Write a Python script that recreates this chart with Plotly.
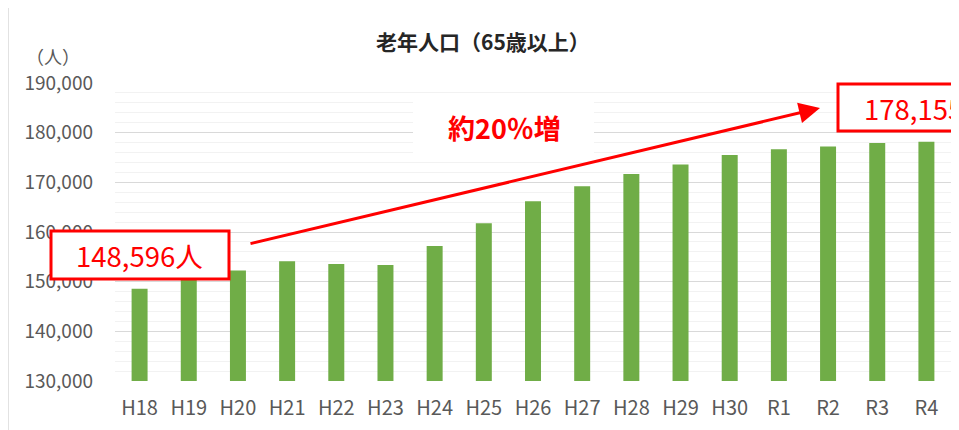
import plotly.graph_objects as go

categories = ["H18", "H19", "H20", "H21", "H22", "H23", "H24", "H25", "H26",
              "H27", "H28", "H29", "H30", "R1", "R2", "R3", "R4"]
elderly_pop = [148596, 150500, 152230, 154130, 153580, 153380, 157200, 161770, 166200,
               169220, 171700, 173570, 175520, 176670, 177190, 177940, 178155]
y_ticks = [130000, 140000, 150000, 160000, 170000, 180000, 190000]
y_tick_labels = [f"{v:,}" for v in y_ticks]

start_label = "148,596人"
end_label = "178,155人"
growth_label = "約20％増"
title_text = "<b>老年人口（65歳以上）</b>"
unit_label = "（人）"

FONT = "Noto Sans CJK JP"
# the page body has an 8px margin, so the figure is drawn 8px right/down
OFF = 8
W, H = 959 - OFF, 430 - OFF
# plot area in reference-picture pixels
L, R, T, B = 115, 951, 83, 381


def px(x):
    return (x - L) / (R - L)


def py(y):
    return (B - y) / (B - T)


fig = go.Figure()
fig.add_trace(go.Bar(x=categories, y=elderly_pop, marker=dict(color="#70ad47", line=dict(width=0)),
                     hoverinfo="x+y"))

fig.update_layout(
    width=W, height=H,
    margin=dict(l=L - OFF, r=959 - R, t=T - OFF, b=430 - B),
    paper_bgcolor="white", plot_bgcolor="white",
    bargap=0.675,
    showlegend=False,
    font=dict(family=FONT, color="#595959"),
)
fig.update_xaxes(
    type="category", showgrid=False, zeroline=False, showline=False,
    ticks="", tickfont=dict(size=20, color="#595959", family=FONT),
    ticklabelstandoff=13,
)
fig.update_yaxes(
    range=[130000, 190000], tickvals=y_ticks, ticktext=y_tick_labels,
    showgrid=True, gridcolor="#d9d9d9", gridwidth=1, zeroline=False, showline=False,
    ticks="", tickfont=dict(size=19, color="#595959", family=FONT),
    ticklabelstandoff=21,
    minor=dict(dtick=2000, tick0=130000, showgrid=True, gridcolor="#f2f2f2", gridwidth=1),
)

shapes = []
# outer chart frame
shapes.append(dict(type="rect", xref="paper", yref="paper", x0=px(8), x1=px(1100),
                   y0=py(500), y1=py(6), line=dict(color="#d9d9d9", width=1.5),
                   fillcolor="rgba(0,0,0,0)", layer="below"))
# white area behind growth text
shapes.append(dict(type="rect", xref="paper", yref="paper", x0=px(413), x1=px(594),
                   y0=py(158), y1=py(98), line=dict(width=0), fillcolor="white", layer="above"))
# start value box
shapes.append(dict(type="rect", xref="paper", yref="paper", x0=px(51), x1=px(229),
                   y0=py(279), y1=py(231), line=dict(color="#ff0000", width=3),
                   fillcolor="white", layer="above"))
# end value box
shapes.append(dict(type="rect", xref="paper", yref="paper", x0=px(838), x1=px(1000),
                   y0=py(131), y1=py(84), line=dict(color="#ff0000", width=3),
                   fillcolor="white", layer="above"))
fig.update_layout(shapes=shapes)

annotations = [
    dict(text=title_text, xref="paper", yref="paper", x=px(483), y=py(41),
         showarrow=False, font=dict(size=21, color="#262626", family=FONT),
         xanchor="center", yanchor="middle"),
    dict(text=unit_label, xref="paper", yref="paper", x=px(53), y=py(56),
         showarrow=False, font=dict(size=18, color="#595959", family=FONT),
         xanchor="center", yanchor="middle"),
    dict(text=start_label, xref="paper", yref="paper", x=px(139), y=py(255),
         showarrow=False, font=dict(size=27.5, color="#ff0000", family=FONT),
         xanchor="center", yanchor="middle"),
    dict(text=end_label, xref="paper", yref="paper", x=px(862), y=py(108),
         showarrow=False, font=dict(size=27.5, color="#ff0000", family=FONT),
         xanchor="left", yanchor="middle"),
    dict(text="<b>" + growth_label + "</b>", xref="paper", yref="paper", x=px(504), y=py(128),
         showarrow=False, font=dict(size=27, color="#ff0000", family=FONT),
         xanchor="center", yanchor="middle"),
    # growth arrow
    dict(text="", xref="paper", yref="paper", x=px(820), y=py(108),
         ax=249 - 820, ay=244 - 108, axref="pixel", ayref="pixel",
         showarrow=True, arrowhead=2, arrowsize=1.4, arrowwidth=3, arrowcolor="#ff0000",
         standoff=0, startstandoff=0),
]
fig.update_layout(annotations=annotations)

fig.write_html("out.html")
